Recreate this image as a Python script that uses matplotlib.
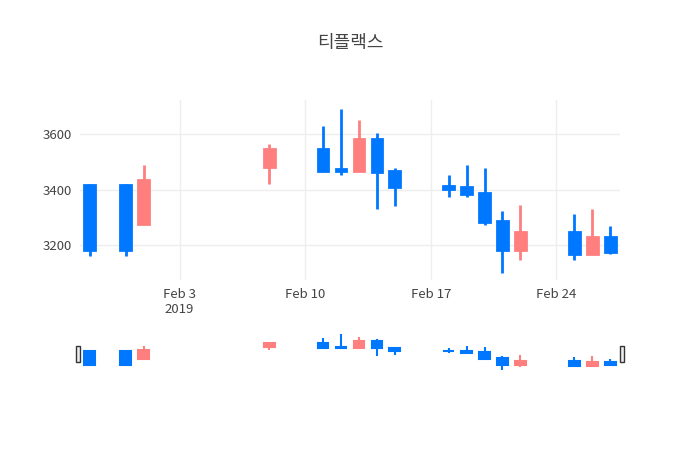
import matplotlib.pyplot as plt
import matplotlib.dates as mdates
import numpy as np

plt.rcParams['font.family'] = ['Noto Sans CJK KR', 'Open Sans', 'DejaVu Sans']

dates = ['2019-01-29', '2019-01-31', '2019-02-01', '2019-02-08', '2019-02-11', '2019-02-12',
         '2019-02-13', '2019-02-14', '2019-02-15', '2019-02-18', '2019-02-19', '2019-02-20',
         '2019-02-21', '2019-02-22', '2019-02-25', '2019-02-26', '2019-02-27']
opens = [3417, 3417, 3277, 3482, 3547, 3474, 3468, 3583, 3468, 3412, 3408, 3387, 3288, 3182, 3247, 3168, 3229]
closes = [3182, 3182, 3434, 3547, 3468, 3466, 3583, 3464, 3408, 3402, 3383, 3282, 3182, 3247, 3168, 3229, 3176]
highs = [3420, 3420, 3490, 3564, 3630, 3689, 3650, 3605, 3479, 3454, 3490, 3479, 3324, 3344, 3314, 3330, 3270]
lows = [3161, 3161, 3277, 3420, 3468, 3451, 3468, 3332, 3340, 3372, 3372, 3271, 3100, 3146, 3146, 3168, 3168]

UP = '#ff7f7f'
DOWN = '#0077ff'

x = mdates.date2num(np.array(dates, dtype='datetime64[D]'))
xlim = (mdates.date2num(np.datetime64('2019-01-28')) + 0.45,
        mdates.date2num(np.datetime64('2019-02-27')) + 0.55)


def candles(ax, lw, width):
    for xi, o, c, h, l in zip(x, opens, closes, highs, lows):
        col = UP if c >= o else DOWN
        ax.vlines(xi, l, h, color=col, lw=lw, zorder=2)
        lo, hi = min(o, c), max(o, c)
        ax.bar(xi, max(hi - lo, 4), bottom=lo, width=width, color=col,
               edgecolor=col, linewidth=lw, zorder=3)


fig = plt.figure(figsize=(7, 4.5), dpi=100)
ax = fig.add_axes([80 / 700, 1 - 280 / 450, 540 / 700, 180 / 450])
candles(ax, 2, 0.6)
ax.set_xlim(xlim)
ax.set_ylim(3075, 3722)
ax.set_yticks([3200, 3400, 3600])
ticks = mdates.date2num(np.array(['2019-02-03', '2019-02-10', '2019-02-17', '2019-02-24'], dtype='datetime64[D]'))
ax.set_xticks(ticks)
ax.set_xticklabels(['Feb 3\n2019', 'Feb 10', 'Feb 17', 'Feb 24'])
ax.grid(color='#eeeeee', lw=1)
ax.set_axisbelow(True)
for s in ax.spines.values():
    s.set_visible(False)
ax.tick_params(length=0, labelsize=9.5, colors='#444444', pad=6)
for lab in ax.get_xticklabels():
    lab.set_verticalalignment('top')
fig.text(0.5, 1 - 43 / 450, '티플랙스', ha='center', va='center', fontsize=13, color='#444444')

sl = fig.add_axes([80 / 700, 1 - 372 / 450, 540 / 700, 42 / 450])
candles(sl, 1.5, 0.6)
sl.set_xlim(xlim)
sl.set_ylim(3060, 3760)
sl.axis('off')
for hx in (xlim[0] - 0.1, xlim[1] + 0.1):
    sl.add_patch(plt.Rectangle((hx - 0.1, 3230), 0.2, 260, facecolor='#eeeeee',
                               edgecolor='#333333', lw=1, clip_on=False, zorder=5))

fig.savefig('out.png')
